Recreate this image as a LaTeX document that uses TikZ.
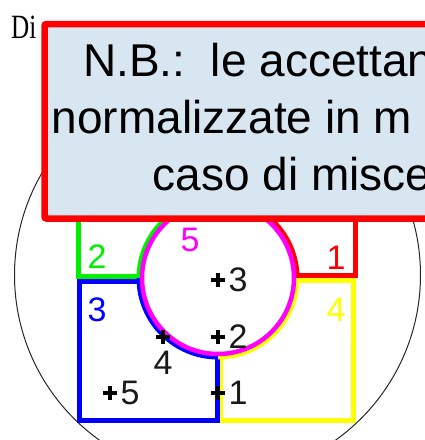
\documentclass[tikz,border=0pt]{standalone}
\usepackage{fontspec}
\setmainfont{Liberation Serif}
\newfontfamily\arialfont{Liberation Sans}
\usetikzlibrary{positioning}
\definecolor{nbfill}{HTML}{D8E6F2}
\definecolor{srcgreen}{HTML}{00F000}
\definecolor{srcyellow}{HTML}{FFFF00}
\definecolor{srcred}{HTML}{FF0000}
\definecolor{srcblue}{HTML}{0000FF}
\definecolor{srcmagenta}{HTML}{FF00FF}

\begin{document}
\begin{tikzpicture}[x=1pt, y=-1pt,
        zone/.style={line width=5pt},
        rim/.style={line width=4pt},
        num/.style={font=\arialfont\fontsize{34}{34}\selectfont, inner sep=0pt},
        srcnum/.style={num, text=black!90},
        cross/.style={line width=4.5pt, black},
        nbline/.style={font=\arialfont\fontsize{46}{55}\selectfont, inner sep=0pt, anchor=base west}
    ]
        \useasboundingbox (0,0) rectangle (425,440);
        \clip (0,0) rectangle (425,440);
        \coordinate (c) at (218,278);
        % outer contour
        \draw[black!85, line width=1pt] (217.5,275) circle[radius=203];
        % the four zones
        \draw[zone, srcgreen] (78.5,140) rectangle (216,276.5);
        \draw[zone, srcred] (220,140) rectangle (355,275);
        \draw[zone, srcyellow] (220,280.5) rectangle (353.5,420.5);
        \draw[zone, srcblue] (79.5,281) rectangle (217.5,420.5);
        \draw[rim, srcgreen] (c) ++(180:79.5) arc[start angle=180, end angle=270, radius=79.5];
        \draw[rim, srcred] (c) ++(270:79.5) arc[start angle=270, end angle=360, radius=79.5];
        \draw[rim, srcyellow] (c) ++(0:79.5) arc[start angle=0, end angle=90, radius=79.5];
        \draw[rim, srcblue] (c) ++(90:79.5) arc[start angle=90, end angle=180, radius=79.5];
        \fill[white] (c) circle[radius=77.5];
        \draw[line width=4.5pt, srcmagenta] (c) circle[radius=76];
        \node[num, srcgreen] (z2) at (97,257) {2};
        \node[num, srcred] (z1) at (336,258) {1};
        \node[num, srcblue] (z3) at (97,310) {3};
        \node[num, srcyellow] (z4) at (336,310) {4};
        \node[num, srcmagenta] (z5) at (190,240) {5};
        % source positions
        \coordinate (p1) at (218,393);
        \coordinate (p2) at (218,337);
        \coordinate (p3) at (218,280);
        \coordinate (p4) at (163,337);
        \coordinate (p5) at (110,393);
        \foreach \p in {p1,p2,p3,p4,p5}
            \draw[cross] (\p) +(-7,0) -- +(7,0) (\p) +(0,-7) -- +(0,7);
        \node[srcnum, right=10.5pt of p1] (l1) {1};
        \node[srcnum, right=10.5pt of p2] (l2) {2};
        \node[srcnum, right=10.5pt of p3] (l3) {3};
        \node[srcnum, below=14pt of p4] (l4) {4};
        \node[srcnum, right=10.5pt of p5] (l5) {5};
        % heading and note
        \node[inner sep=0pt, anchor=base west, font=\fontsize{34}{34}\selectfont, xscale=0.74, transform shape] (head) at (11,38) {Di};
        \node[draw=srcred, line width=6.5pt, fill=nbfill, rounded corners=2pt, minimum width=430pt, minimum height=194.5pt, anchor=north west, inner sep=0pt, outer sep=0pt] (note) at (44.5,24) {};
        \node[nbline] (n1) at (83,76.7) {N.B.:\ \ le accettan};
        \node[nbline] (n2) at (51.5,133.3) {normalizzate in m};
        \node[nbline] (n3) at (152.5,190) {caso di misce};
    \end{tikzpicture}
\end{document}
